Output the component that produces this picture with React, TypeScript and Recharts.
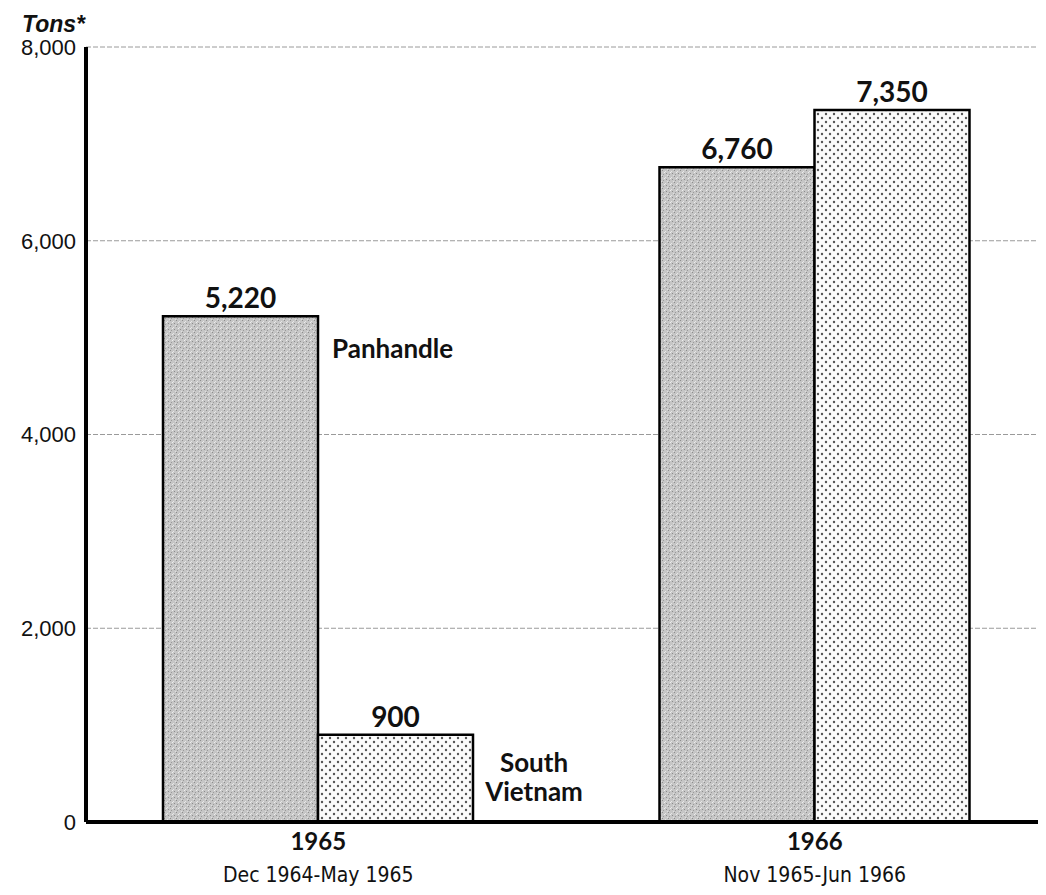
import { Bar, BarChart, CartesianGrid, LabelList, XAxis, YAxis } from "recharts";

const YEARS = ["1965", "1966"];
const PERIODS = ["Dec 1964-May 1965", "Nov 1965-Jun 1966"];
const PANHANDLE = [5220, 6760];
const SOUTH_VIETNAM = [900, 7350];
const Y_TICKS = [0, 2000, 4000, 6000, 8000];

const data = YEARS.map((year, i) => ({
  year,
  period: PERIODS[i],
  panhandle: PANHANDLE[i],
  southVietnam: SOUTH_VIETNAM[i],
}));

const BOLD_FONT = "Lato, 'Noto Sans', sans-serif";
const AXIS_FONT = "'Liberation Sans', Arial, sans-serif";
const NARROW_FONT = "'DejaVu Sans Condensed', 'DejaVu Sans', sans-serif";

const fmt = (v: number) => v.toLocaleString("en-US");

function YearTick({ x, y, payload, index }: any) {
  return (
    <g>
      <text x={x} y={y + 20} textAnchor="middle" fontFamily={BOLD_FONT} fontWeight={700} fontSize={24} fill="#111">
        {payload.value}
      </text>
      <text
        x={x}
        y={y + 52}
        textAnchor="middle"
        fontFamily={NARROW_FONT}
        fontStretch="condensed"
        fontSize={21}
        fill="#111"
      >
        {PERIODS[index]}
      </text>
    </g>
  );
}

// value on top of the bar, plus the series name beside the first group
function makeLabel(name: string[], place: "upper" | "lower") {
  return (props: any) => {
    const { x, y, width, height, value, index } = props;
    return (
      <g>
        <text x={x + width / 2} y={y - 8} textAnchor="middle" fontFamily={BOLD_FONT} fontWeight={700} fontSize={28} fill="#111">
          {fmt(value)}
        </text>
        {index === 0 &&
          name.map((line, k) =>
            place === "upper" ? (
              <text key={k} x={x + width + 14} y={y + 42 + k * 26} fontFamily={BOLD_FONT} fontWeight={700} fontSize={26} fill="#111">
                {line}
              </text>
            ) : (
              <text key={k} x={x + width + 61} y={y + height - 50 + k * 29} textAnchor="middle" fontFamily={BOLD_FONT} fontWeight={700} fontSize={26} fill="#111">
                {line}
              </text>
            )
          )}
      </g>
    );
  };
}

function TonsLabel({ viewBox }: any) {
  return (
    <text x={viewBox.x + 6} y={viewBox.y - 15} fontFamily={AXIS_FONT} fontStyle="italic" fontWeight={700} fontSize={23} fill="#111">
      Tons*
    </text>
  );
}

export default function App() {
  // the chart runs past the right edge so the grid and axis reach it, as in the print
  return (
    <div style={{ width: 1038, height: 879, overflow: "hidden" }}>
      <BarChart
        width={1060}
        height={879}
        data={data}
        margin={{ top: 39, right: 0, left: 8, bottom: 5 }}
        barGap={0}
        barCategoryGap={93}
        style={{ background: "#fff" }}
      >
        <defs>
          <pattern id="stipple" width="6" height="6" patternUnits="userSpaceOnUse">
            <rect width="6" height="6" fill="#c6c6c6" />
            <rect x="0" y="0" width="1" height="1" fill="#8c8c8c" />
            <rect x="3" y="1" width="1" height="1" fill="#e6e6e6" />
            <rect x="4" y="3" width="1" height="1" fill="#8c8c8c" />
            <rect x="1" y="4" width="1" height="1" fill="#9a9a9a" />
            <rect x="2" y="2" width="1" height="1" fill="#eeeeee" />
            <rect x="5" y="5" width="1" height="1" fill="#e0e0e0" />
          </pattern>
          <pattern id="dots" width="8" height="8" patternUnits="userSpaceOnUse">
            <rect width="8" height="8" fill="#fbfbfb" />
            <circle cx="2" cy="2" r="1.2" fill="#555" />
            <circle cx="6" cy="6" r="1.2" fill="#555" />
          </pattern>
        </defs>
        <CartesianGrid vertical={false} stroke="#9a9a9a" strokeDasharray="5 2" />
        <XAxis
          dataKey="year"
          padding={{ left: -16, right: 5 }}
          height={60}
          tickLine={false}
          axisLine={{ stroke: "#000", strokeWidth: 4 }}
          tick={<YearTick />}
          interval={0}
        />
        <YAxis
          width={70}
          domain={[0, 8000]}
          ticks={Y_TICKS}
          tickFormatter={fmt}
          tickLine={false}
          tickSize={0}
          tickMargin={10}
          axisLine={{ stroke: "#000", strokeWidth: 4 }}
          tick={{ fontFamily: AXIS_FONT, fontSize: 22, fill: "#111" }}
          label={<TonsLabel />}
        />
        <Bar dataKey="panhandle" fill="url(#stipple)" stroke="#000" strokeWidth={2.5} isAnimationActive={false}>
          <LabelList dataKey="panhandle" content={makeLabel(["Panhandle"], "upper")} />
        </Bar>
        <Bar dataKey="southVietnam" fill="url(#dots)" stroke="#000" strokeWidth={2.5} isAnimationActive={false}>
          <LabelList dataKey="southVietnam" content={makeLabel(["South", "Vietnam"], "lower")} />
        </Bar>
      </BarChart>
    </div>
  );
}
